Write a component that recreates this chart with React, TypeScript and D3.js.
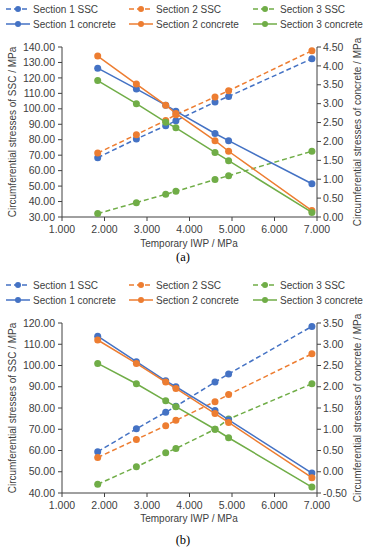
import React from "react";
import * as d3 from "d3";

// temporary internal water pressure (x values, MPa)
const iwp = [1.84, 2.75, 3.44, 3.68, 4.6, 4.92, 6.88];

// panel (a)
const aSsc1 = [68.4, 80.5, 89.1, 92.3, 104.4, 108.0, 132.4];
const aSsc2 = [71.4, 83.3, 92.5, 96.2, 107.7, 111.7, 137.6];
const aSsc3 = [32.2, 39.3, 44.7, 46.6, 54.2, 56.7, 72.5];
const aCon1 = [3.94, 3.39, 2.96, 2.8, 2.21, 2.02, 0.88];
const aCon2 = [4.26, 3.52, 2.96, 2.74, 2.02, 1.74, 0.17];
const aCon3 = [3.61, 3.0, 2.51, 2.36, 1.71, 1.49, 0.12];

// panel (b)
const bSsc1 = [59.4, 70.2, 78.0, 80.8, 92.2, 96.0, 118.4];
const bSsc2 = [56.7, 65.2, 71.7, 74.2, 83.0, 86.3, 105.5];
const bSsc3 = [44.1, 52.3, 58.9, 60.9, 70.0, 74.8, 91.4];
const bCon1 = [3.19, 2.59, 2.14, 2.0, 1.44, 1.22, -0.03];
const bCon2 = [3.1, 2.55, 2.11, 1.96, 1.37, 1.16, -0.14];
const bCon3 = [2.55, 2.07, 1.67, 1.53, 1.0, 0.8, -0.36];

const xTicks = [1, 2, 3, 4, 5, 6, 7];
const aLeftTicks = d3.range(30, 141, 10);
const aRightTicks = d3.range(0, 4.51, 0.5);
const bLeftTicks = d3.range(40, 121, 10);
const bRightTicks = d3.range(-0.5, 3.51, 0.5);

const legendNames = [
  ["Section 1 SSC", "Section 2 SSC", "Section 3 SSC"],
  ["Section 1 concrete", "Section 2 concrete", "Section 3 concrete"],
];

const colors = ["#4472C4", "#ED7D31", "#70AD47"];
const font = "'Liberation Sans', Arial, sans-serif";
const txt = "#404040";
const axisCol = "#404040";

type PanelProps = {
  y0: number; // legend top row
  top: number;
  bottom: number;
  leftDomain: [number, number];
  rightDomain: [number, number];
  leftTicks: number[];
  rightTicks: number[];
  ssc: number[][];
  con: number[][];
  tickY: number;
  titleY: number;
  capY: number;
  caption: string;
};

const xScale = d3.scaleLinear().domain([1, 7]).range([62, 317]);

function Panel(p: PanelProps) {
  const yL = d3.scaleLinear().domain(p.leftDomain).range([p.bottom, p.top]);
  const yR = d3.scaleLinear().domain(p.rightDomain).range([p.bottom, p.top]);
  const lineL = d3
    .line<number>()
    .x((_, i) => xScale(iwp[i]))
    .y((d) => yL(d));
  const lineR = d3
    .line<number>()
    .x((_, i) => xScale(iwp[i]))
    .y((d) => yR(d));
  const midY = (p.top + p.bottom) / 2;
  const legCols = [6, 129, 253];

  return (
    <g fontFamily={font} fill={txt}>
      {/* legend */}
      {legendNames.map((row, r) =>
        row.map((name, c) => {
          const y = p.y0 + r * 15;
          const x = legCols[c];
          return (
            <g key={name}>
              <line
                x1={x}
                x2={x + 24}
                y1={y}
                y2={y}
                stroke={colors[c]}
                strokeWidth={1.5}
                strokeDasharray={r === 0 ? "5,3" : undefined}
              />
              <circle cx={x + 12} cy={y} r={3} fill={colors[c]} />
              <text x={x + 27} y={y} dy="0.35em" fontSize={10}>
                {name}
              </text>
            </g>
          );
        })
      )}

      {/* axes */}
      <line x1={62} x2={317} y1={p.bottom} y2={p.bottom} stroke={axisCol} strokeWidth={1} />
      <line x1={62} x2={62} y1={p.top} y2={p.bottom} stroke={axisCol} strokeWidth={1} />
      <line x1={317} x2={317} y1={p.top} y2={p.bottom} stroke={axisCol} strokeWidth={1} />
      {xTicks.map((t) => (
        <g key={"x" + t}>
          <line x1={xScale(t)} x2={xScale(t)} y1={p.bottom} y2={p.bottom + 4} stroke={axisCol} />
          <text x={xScale(t)} y={p.tickY} dy="0.35em" textAnchor="middle" fontSize={10.5}>
            {t.toFixed(3)}
          </text>
        </g>
      ))}
      {p.leftTicks.map((t) => (
        <g key={"l" + t}>
          <line x1={58} x2={62} y1={yL(t)} y2={yL(t)} stroke={axisCol} />
          <text x={55} y={yL(t)} dy="0.35em" textAnchor="end" fontSize={10.5}>
            {t.toFixed(2)}
          </text>
        </g>
      ))}
      {p.rightTicks.map((t) => (
        <g key={"r" + t}>
          <line x1={317} x2={321} y1={yR(t)} y2={yR(t)} stroke={axisCol} />
          <text x={323} y={yR(t)} dy="0.35em" textAnchor="start" fontSize={10.5}>
            {t.toFixed(2)}
          </text>
        </g>
      ))}

      {/* titles */}
      <text
        transform={`translate(12,${midY}) rotate(-90)`}
        textAnchor="middle"
        dy="0.35em"
        fontSize={10}
      >
        Circumferential  stresses of SSC / MPa
      </text>
      <text
        transform={`translate(357,${midY}) rotate(-90)`}
        textAnchor="middle"
        dy="0.35em"
        fontSize={10}
      >
        Circumferential stresses of concrete / MPa
      </text>
      <text x={189} y={p.titleY} dy="0.35em" textAnchor="middle" fontSize={10}>
        Temporary IWP / MPa
      </text>
      <text
        x={183}
        y={p.capY}
        dy="0.35em"
        textAnchor="middle"
        fontSize={12.5}
        fontFamily="'Liberation Serif', 'Times New Roman', serif"
        fill="#000"
      >
        {p.caption}
      </text>

      {/* series */}
      {p.ssc.map((s, k) => (
        <g key={"s" + k}>
          <path d={lineL(s) || ""} fill="none" stroke={colors[k]} strokeWidth={1.5} strokeDasharray="5,3" />
          {s.map((v, i) => (
            <circle key={i} cx={xScale(iwp[i])} cy={yL(v)} r={3.5} fill={colors[k]} />
          ))}
        </g>
      ))}
      {p.con.map((s, k) => (
        <g key={"c" + k}>
          <path d={lineR(s) || ""} fill="none" stroke={colors[k]} strokeWidth={1.5} />
          {s.map((v, i) => (
            <circle key={i} cx={xScale(iwp[i])} cy={yR(v)} r={3.5} fill={colors[k]} />
          ))}
        </g>
      ))}
    </g>
  );
}

export default function App() {
  return (
    <svg width={367} height={550} style={{ position: "absolute", left: 0, top: 0, background: "#fff" }}>
      <rect width={367} height={550} fill="#fff" />
      <Panel
        y0={9}
        top={47}
        bottom={217}
        leftDomain={[30, 140]}
        rightDomain={[0, 4.5]}
        leftTicks={aLeftTicks}
        rightTicks={aRightTicks}
        ssc={[aSsc1, aSsc2, aSsc3]}
        con={[aCon1, aCon2, aCon3]}
        tickY={229}
        titleY={243}
        capY={257}
        caption="(a)"
      />
      <Panel
        y0={285}
        top={323}
        bottom={493}
        leftDomain={[40, 120]}
        rightDomain={[-0.5, 3.5]}
        leftTicks={bLeftTicks}
        rightTicks={bRightTicks}
        ssc={[bSsc1, bSsc2, bSsc3]}
        con={[bCon1, bCon2, bCon3]}
        tickY={505}
        titleY={518}
        capY={540}
        caption="(b)"
      />
    </svg>
  );
}
